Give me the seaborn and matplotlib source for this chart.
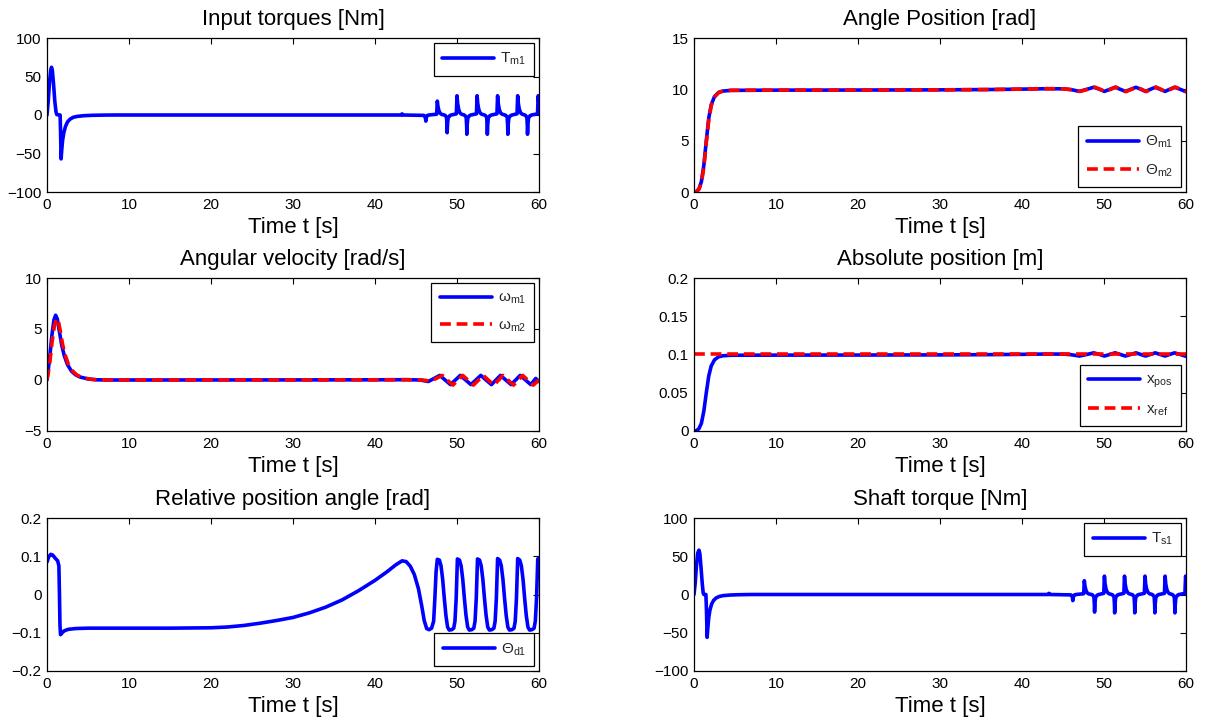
import matplotlib
matplotlib.use("Agg")
import matplotlib.pyplot as plt
import seaborn as sns
import pandas as pd

# ---------------- data ----------------
x_ticks = [0, 10, 20, 30, 40, 50, 60]
x_tick_labels = ["0", "10", "20", "30", "40", "50", "60"]

torque_ticks = [-100, -50, 0, 50, 100]
torque_tick_labels = ["\u2212100", "\u221250", "0", "50", "100"]
angle_ticks = [0, 5, 10, 15]
angle_tick_labels = ["0", "5", "10", "15"]
vel_ticks = [-5, 0, 5, 10]
vel_tick_labels = ["\u22125", "0", "5", "10"]
abspos_ticks = [0, 0.05, 0.1, 0.15, 0.2]
abspos_tick_labels = ["0", "0.05", "0.1", "0.15", "0.2"]
relpos_ticks = [-0.2, -0.1, 0, 0.1, 0.2]
relpos_tick_labels = ["\u22120.2", "\u22120.1", "0", "0.1", "0.2"]

titles = ["Input torques [Nm]", "Angle Position [rad]", "Angular velocity [rad/s]",
          "Absolute position [m]", "Relative position angle [rad]", "Shaft torque [Nm]"]
x_label = "Time t [s]"

# Input torque T_m1
tm1_t = [0, 0.15, 0.3, 0.45, 0.55, 0.65, 0.8, 0.95, 1.1, 1.2, 1.6, 1.65, 1.72, 1.8, 1.9, 2.05, 2.25, 2.5, 2.8, 3.2,
         3.7, 4.5, 5.5, 7.0, 8.5, 43.2, 43.3, 43.4,
         45.95, 46.12, 46.2, 46.26, 46.4, 46.6,
         47.52, 47.6, 47.68, 47.8, 47.95, 48.15, 48.4,
         48.55, 48.72, 48.78, 48.8, 48.85, 48.92, 49.1, 49.3,
         49.92, 50.0, 50.08, 50.2, 50.35, 50.55, 50.8,
         50.95, 51.12, 51.18, 51.2, 51.25, 51.32, 51.5, 51.7,
         52.37, 52.45, 52.53, 52.65, 52.8, 53.0, 53.25,
         53.45, 53.62, 53.68, 53.7, 53.75, 53.82, 54.0, 54.2,
         54.87, 54.95, 55.03, 55.15, 55.3, 55.5, 55.75,
         55.95, 56.12, 56.18, 56.2, 56.25, 56.32, 56.5, 56.7,
         57.32, 57.4, 57.48, 57.6, 57.75, 57.95, 58.2,
         58.35, 58.52, 58.58, 58.6, 58.65, 58.72, 58.9, 59.1,
         59.82, 59.9, 59.96, 60.0]
tm1_v = [0, 18, 42, 58, 62, 58, 40, 18, 4, 0.5, 0, -20, -57, -45, -33, -23, -15, -9, -5.5, -3,
         -1.8, -0.9, -0.4, -0.1, 0, 0, 1.5, 0,
         -0.5, -2, -8, -3, -0.5, 0,
         1, 18, 11, 5.5, 2.2, 0.7, 0.2,
         -0.5, -3, -14, -23, -11, -4, -1, 0,
         1.5, 25, 15, 7.5, 3, 1, 0.3,
         -0.5, -3, -15, -25, -12, -4, -1, 0,
         1.5, 25, 15, 7.5, 3, 1, 0.3,
         -0.5, -3, -15, -25, -12, -4, -1, 0,
         1.5, 25, 15, 7.5, 3, 1, 0.3,
         -0.5, -3, -15, -25, -12, -4, -1, 0,
         1.5, 25, 15, 7.5, 3, 1, 0.3,
         -0.5, -3, -15, -25, -12, -4, -1, 0,
         1.5, 25, 18, 12]

# Shaft torque T_s1
ts1_t = [0, 0.15, 0.3, 0.45, 0.6, 0.72, 0.85, 1.0, 1.12, 1.2, 1.45, 1.52, 1.6, 1.7, 1.8, 1.95, 2.15, 2.4, 2.7, 3.1,
         3.6, 4.4, 5.4, 7.0, 43.2, 43.3, 43.4,
         45.95, 46.12, 46.2, 46.26, 46.4, 46.6,
         47.52, 47.6, 47.68, 47.8, 47.95, 48.15, 48.4,
         48.6, 48.77, 48.83, 48.85, 48.9, 48.97, 49.15, 49.35,
         49.97, 50.05, 50.13, 50.25, 50.4, 50.6, 50.85,
         51.05, 51.22, 51.28, 51.3, 51.35, 51.42, 51.6, 51.8,
         52.42, 52.5, 52.58, 52.7, 52.85, 53.05, 53.3,
         53.5, 53.67, 53.73, 53.75, 53.8, 53.87, 54.05, 54.25,
         54.92, 55.0, 55.08, 55.2, 55.35, 55.55, 55.8,
         55.95, 56.12, 56.18, 56.2, 56.25, 56.32, 56.5, 56.7,
         57.37, 57.45, 57.53, 57.65, 57.8, 58.0, 58.25,
         58.4, 58.57, 58.63, 58.65, 58.7, 58.77, 58.95, 59.15,
         59.87, 59.95, 60.0]
ts1_v = [0, 15, 38, 54, 58, 53, 36, 15, 2, 0, 0, -20, -56, -42, -30, -20, -12.5, -7.5, -4.5, -2.5,
         -1.4, -0.7, -0.3, 0, 0, 1.5, 0,
         -0.5, -2, -8, -3, -0.5, 0,
         1, 18, 11, 5.5, 2.2, 0.7, 0.2,
         -0.5, -3, -14, -23, -11, -4, -1, 0,
         1.5, 24, 14, 7, 3, 1, 0.3,
         -0.5, -3, -14, -24, -12, -4, -1, 0,
         1.5, 24, 14, 7, 3, 1, 0.3,
         -0.5, -3, -14, -24, -12, -4, -1, 0,
         1.5, 24, 14, 7, 3, 1, 0.3,
         -0.5, -3, -14, -24, -12, -4, -1, 0,
         1.5, 24, 14, 7, 3, 1, 0.3,
         -0.5, -3, -14, -24, -12, -4, -1, 0,
         1.5, 24, 20]

# Angle positions theta_m1 / theta_m2
th1_t = [0, 0.3, 0.6, 0.9, 1.2, 1.5, 1.8, 2.1, 2.5, 3.0, 3.5, 4.5, 10, 20, 30, 36, 40, 43, 45, 46, 47.0,
         47.9, 48.75, 49.4, 50.05, 50.7, 51.35, 52.0, 52.6, 53.25, 53.9, 54.5, 55.05, 55.65, 56.25, 56.85,
         57.45, 58.0, 58.6, 59.3, 59.95, 60]
th1_v = [0, 0.05, 0.3, 1.0, 2.6, 5.0, 7.2, 8.5, 9.3, 9.7, 9.83, 9.9, 9.92, 9.93, 9.95, 9.98, 10.02, 10.06, 10.05,
         9.97, 9.8, 10.0, 10.2, 10.02, 9.8, 10.0, 10.2, 10.0, 9.8, 10.0, 10.2, 10.0, 9.8, 10.0, 10.2, 10.0,
         9.8, 10.0, 10.2, 10.0, 9.78, 9.77]
th2_t = [0, 0.3, 0.6, 0.9, 1.2, 1.5, 1.8, 2.1, 2.5, 3.0, 3.5, 4.5, 10, 20, 30, 36, 40, 43, 45, 46.1, 47.1,
         48.0, 48.85, 49.5, 50.15, 50.8, 51.45, 52.1, 52.7, 53.35, 54.0, 54.6, 55.15, 55.75, 56.35, 56.95,
         57.55, 58.1, 58.7, 59.4, 60]
th2_v = [0, 0.03, 0.25, 0.9, 2.4, 4.8, 7.0, 8.4, 9.25, 9.68, 9.82, 9.9, 9.92, 9.93, 9.95, 9.98, 10.02, 10.06,
         10.05, 9.96, 9.8, 10.0, 10.22, 10.02, 9.78, 10.0, 10.22, 10.0, 9.78, 10.0, 10.22, 10.0, 9.78, 10.0,
         10.22, 10.0, 9.78, 10.0, 10.22, 10.0, 9.8]

# Angular velocities omega_m1 / omega_m2
w1_t = [0, 0.3, 0.6, 0.85, 1.05, 1.25, 1.5, 1.8, 2.1, 2.5, 3.0, 3.5, 4.0, 5.0, 6.0, 8, 30, 40, 44, 45.5, 46.5,
        47.9, 49.2, 50.4, 51.7, 52.9, 54.2, 55.3, 56.6, 57.7, 59.0, 59.6, 60]
w1_v = [0, 2.0, 4.4, 5.9, 6.35, 6.0, 4.8, 3.4, 2.4, 1.5, 0.85, 0.5, 0.3, 0.1, 0.02, 0, 0.01, 0.02, 0.03, 0.0,
        -0.15, 0.45, -0.45, 0.45, -0.45, 0.45, -0.45, 0.45, -0.45, 0.45, -0.45, 0.15, -0.15]
w2_t = [0, 0.3, 0.6, 0.9, 1.15, 1.35, 1.6, 1.9, 2.2, 2.6, 3.1, 3.6, 4.1, 5.1, 6.1, 8, 30, 40, 44, 45.8, 46.8,
        48.2, 49.5, 50.7, 52.0, 53.2, 54.5, 55.6, 56.9, 58.0, 59.3, 60]
w2_v = [0, 1.4, 3.6, 5.3, 6.0, 5.9, 4.9, 3.5, 2.5, 1.55, 0.9, 0.52, 0.3, 0.1, 0.02, 0, 0.01, 0.02, 0.03, 0.0,
        -0.12, 0.45, -0.5, 0.45, -0.5, 0.45, -0.5, 0.45, -0.5, 0.45, -0.5, 0.0]

# Absolute position x_pos / x_ref
xpos_t = [0, 0.3, 0.6, 0.9, 1.2, 1.5, 1.8, 2.1, 2.5, 3.0, 3.5, 4.5, 10, 20, 30, 36, 40, 43, 45, 46, 47.0,
          47.9, 48.75, 49.4, 50.05, 50.7, 51.35, 52.0, 52.6, 53.25, 53.9, 54.5, 55.05, 55.65, 56.25, 56.85,
          57.45, 58.0, 58.6, 59.3, 59.95, 60]
xpos_v = [0, 0.0005, 0.003, 0.01, 0.026, 0.05, 0.072, 0.085, 0.093, 0.097, 0.0983, 0.099, 0.0992, 0.0993,
          0.0995, 0.0998, 0.1002, 0.1006, 0.1005, 0.0997, 0.098, 0.1, 0.1022, 0.1002, 0.098, 0.1, 0.1022,
          0.1, 0.098, 0.1, 0.1022, 0.1, 0.098, 0.1, 0.1022, 0.1, 0.098, 0.1, 0.1022, 0.1, 0.0978, 0.0977]
xref_t = [0, 60]
xref_v = [0.1, 0.1]

# Relative position angle theta_d1
thd_t = [0, 0.2, 0.45, 0.7, 1.0, 1.3, 1.45, 1.52, 1.58, 1.65, 1.8, 2.1, 2.6, 3.5, 5, 10, 15, 20, 22, 24, 26, 28,
         30, 32, 34, 36, 38, 40, 41.5, 42.5, 43.3, 43.8, 44.3, 44.8, 45.3, 45.7, 46.0, 46.3, 46.6, 46.9,
         47.15, 47.3, 47.45, 47.6,
         47.85, 48.05, 48.25, 48.45, 48.65, 48.85, 49.05, 49.35, 49.6, 49.75, 49.9, 50.05,
         50.3, 50.5, 50.7, 50.9, 51.1, 51.3, 51.5, 51.8, 52.05, 52.2, 52.35, 52.5,
         52.75, 52.95, 53.15, 53.35, 53.55, 53.75, 53.95, 54.25, 54.5, 54.65, 54.8, 54.95,
         55.2, 55.4, 55.6, 55.8, 56.0, 56.2, 56.4, 56.7, 56.95, 57.1, 57.25, 57.4,
         57.65, 57.85, 58.05, 58.25, 58.45, 58.65, 58.85, 59.15, 59.4, 59.55, 59.7, 59.85, 60]
thd_v = [0.085, 0.098, 0.105, 0.103, 0.095, 0.088, 0.075, 0.0, -0.08, -0.105, -0.101, -0.095, -0.091, -0.089,
         -0.088, -0.088, -0.088, -0.087, -0.085, -0.081, -0.075, -0.068, -0.06, -0.048, -0.033, -0.014, 0.01,
         0.037, 0.06, 0.077, 0.088, 0.086, 0.074, 0.052, 0.015, -0.03, -0.068, -0.089, -0.092, -0.088,
         -0.07, -0.01, 0.06, 0.092,
         0.09, 0.075, 0.04, -0.01, -0.055, -0.085, -0.093, -0.092, -0.088, -0.07, -0.01, 0.093,
         0.09, 0.075, 0.04, -0.01, -0.055, -0.085, -0.093, -0.092, -0.088, -0.07, -0.01, 0.093,
         0.09, 0.075, 0.04, -0.01, -0.055, -0.085, -0.093, -0.092, -0.088, -0.07, -0.01, 0.094,
         0.09, 0.075, 0.04, -0.01, -0.055, -0.085, -0.093, -0.092, -0.088, -0.07, -0.01, 0.094,
         0.09, 0.075, 0.04, -0.01, -0.055, -0.085, -0.093, -0.092, -0.088, -0.07, -0.01, 0.093, 0.095]

# ---------------- style ----------------
sns.set_theme(style="white")
plt.rcParams["font.family"] = ["Liberation Sans", "DejaVu Sans"]
plt.rcParams["mathtext.fontset"] = "custom"
plt.rcParams["mathtext.rm"] = "Liberation Sans"
plt.rcParams["mathtext.it"] = "Liberation Sans"
plt.rcParams["mathtext.default"] = "regular"
plt.rcParams["axes.unicode_minus"] = True

BLUE = "#0000ff"
RED = "#ff0000"
LW = 2.6

fig = plt.figure(figsize=(12.06, 7.24), dpi=100)
W, H = 1206.0, 724.0
cols = [(47, 539), (694, 1186)]
rows = [(38, 192), (278, 431), (518, 671)]


def make_ax(r, c):
    x0, x1 = cols[c]
    y0, y1 = rows[r]
    return fig.add_axes([x0 / W, 1 - y1 / H, (x1 - x0) / W, (y1 - y0) / H])


def style(ax, title, ylim, yticks, yticklabels):
    ax.set_xlim(0, 60)
    ax.set_ylim(*ylim)
    ax.set_xticks(x_ticks)
    ax.set_xticklabels(x_tick_labels)
    ax.set_yticks(yticks)
    ax.set_yticklabels(yticklabels)
    ax.tick_params(direction="in", top=True, right=True, length=4.5, width=0.8,
                   labelsize=11, colors="black", pad=4)
    for s in ax.spines.values():
        s.set_visible(True)
        s.set_color("black")
        s.set_linewidth(0.9)
    ax.set_title(title, fontsize=16, pad=9, color="black")
    ax.set_xlabel(x_label, fontsize=16, labelpad=4, color="black")
    ax.set_ylabel("")
    ax.grid(False)


def line(ax, t, v, color, label, dashed=False):
    df = pd.DataFrame({"t": t, "v": v})
    sns.lineplot(data=df, x="t", y="v", ax=ax, color=color, linewidth=LW, label=label,
                 sort=False, estimator=None, linestyle="--" if dashed else "-",
                 solid_joinstyle="round", dash_capstyle="butt")
    if dashed:
        ax.lines[-1].set_dashes((3.0, 1.6))


def legend(ax, loc):
    lg = ax.legend(loc=loc, fontsize=11, frameon=True, fancybox=False, edgecolor="black",
                   framealpha=1, handlelength=3.4, handletextpad=0.4, borderpad=0.55,
                   labelspacing=0.8, borderaxespad=0.3)
    lg.get_frame().set_linewidth(0.9)


ax1 = make_ax(0, 0)
line(ax1, tm1_t, tm1_v, BLUE, r"T$_{m1}$")
style(ax1, titles[0], (-100, 100), torque_ticks, torque_tick_labels)
legend(ax1, "upper right")

ax2 = make_ax(0, 1)
line(ax2, th1_t, th1_v, BLUE, r"$\Theta_{m1}$")
line(ax2, th2_t, th2_v, RED, r"$\Theta_{m2}$", dashed=True)
style(ax2, titles[1], (0, 15), angle_ticks, angle_tick_labels)
legend(ax2, "lower right")

ax3 = make_ax(1, 0)
line(ax3, w1_t, w1_v, BLUE, r"$\omega_{m1}$")
line(ax3, w2_t, w2_v, RED, r"$\omega_{m2}$", dashed=True)
style(ax3, titles[2], (-5, 10), vel_ticks, vel_tick_labels)
legend(ax3, "upper right")

ax4 = make_ax(1, 1)
line(ax4, xpos_t, xpos_v, BLUE, r"x$_{pos}$")
line(ax4, xref_t, xref_v, RED, r"x$_{ref}$", dashed=True)
style(ax4, titles[3], (0, 0.2), abspos_ticks, abspos_tick_labels)
legend(ax4, "lower right")

ax5 = make_ax(2, 0)
line(ax5, thd_t, thd_v, BLUE, r"$\Theta_{d1}$")
style(ax5, titles[4], (-0.2, 0.2), relpos_ticks, relpos_tick_labels)
legend(ax5, "lower right")

ax6 = make_ax(2, 1)
line(ax6, ts1_t, ts1_v, BLUE, r"T$_{s1}$")
style(ax6, titles[5], (-100, 100), torque_ticks, torque_tick_labels)
legend(ax6, "upper right")

fig.savefig("out.png", dpi=100, facecolor="white")
